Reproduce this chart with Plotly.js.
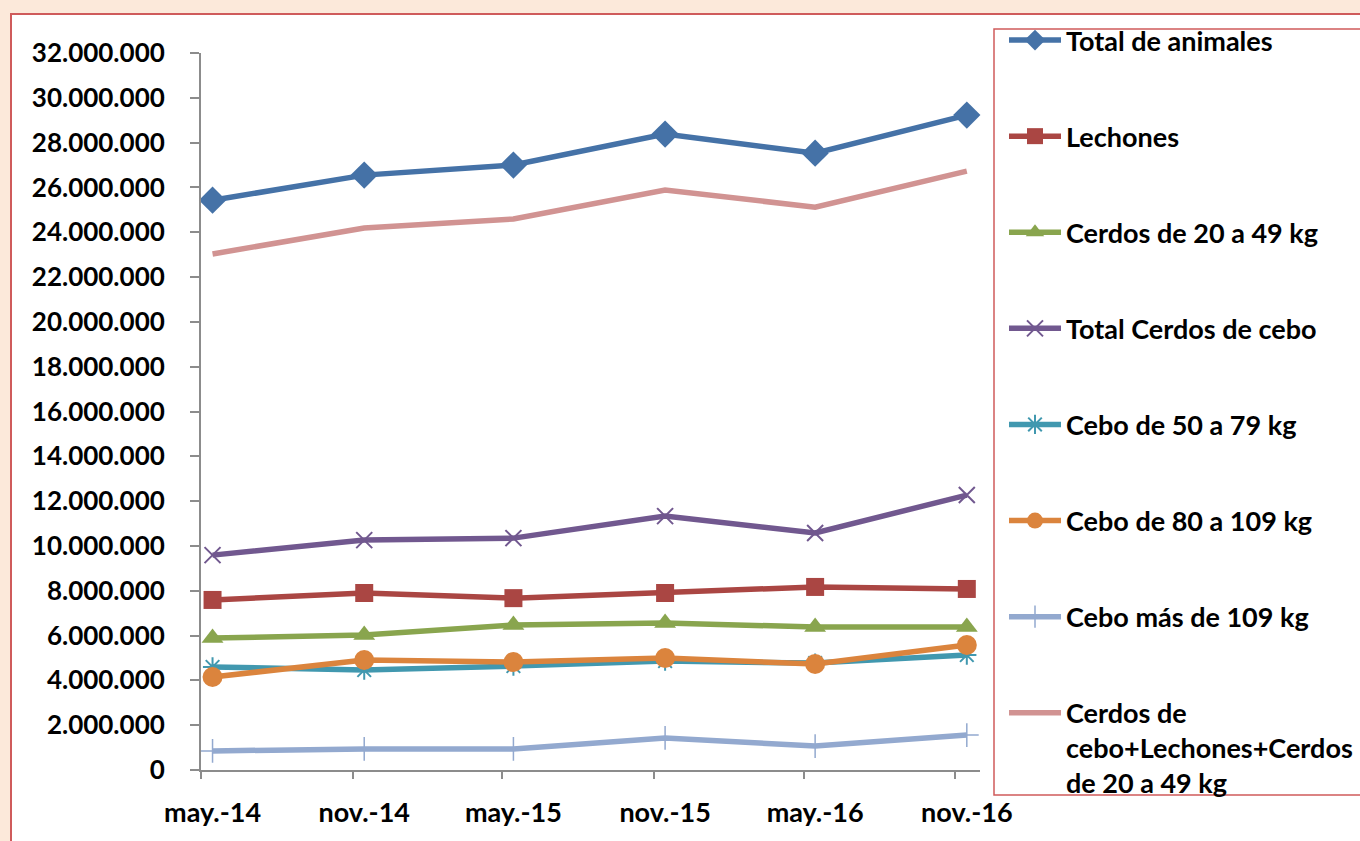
<!DOCTYPE html>
<html>
<head>
<meta charset="utf-8">
<script src="https://cdn.plot.ly/plotly-3.0.1.min.js"></script>
<style>html,body{margin:0;padding:0;background:#FCE9DA;}#chart{width:1360px;height:841px;}</style>
</head>
<body>
<div id="chart"></div>
<script>
// Periods (data dates) and their tick labels
const periods = ['2014-05-15','2014-11-15','2015-05-15','2015-11-15','2016-05-15','2016-11-15'];
const periodLabels = ['may.-14','nov.-14','may.-15','nov.-15','may.-16','nov.-16'];
const periodTicks = ['2014-05-01','2014-11-01','2015-05-01','2015-11-01','2016-05-01','2016-11-01'];

// Series values (number of animals)
const totalAnimales   = [25430000, 26550000, 27000000, 28380000, 27530000, 29230000];
const lechones        = [7590000, 7900000, 7670000, 7900000, 8170000, 8080000];
const cerdos20a49     = [5890000, 6020000, 6470000, 6560000, 6380000, 6380000];
const totalCebo       = [9590000, 10260000, 10350000, 11330000, 10580000, 12270000];
const cebo50a79       = [4600000, 4460000, 4640000, 4860000, 4770000, 5130000];
const cebo80a109      = [4150000, 4910000, 4820000, 5000000, 4730000, 5580000];
const ceboMas109      = [850000, 940000, 940000, 1430000, 1070000, 1560000];
const sumaCebo        = [23030000, 24190000, 24590000, 25880000, 25120000, 26730000];

const yTicks = [0,2e6,4e6,6e6,8e6,10e6,12e6,14e6,16e6,18e6,20e6,22e6,24e6,26e6,28e6,30e6,32e6];

const FONT = 'Lato, "Open Sans", sans-serif';

function tr(name, y, color, symbol, msize, mline, group) {
  const t = {
    type: 'scatter', mode: symbol ? 'lines+markers' : 'lines',
    x: periods, y: y, name: name, legendgroup: group,
    line: {color: color, width: 5.5},
    cliponaxis: false, hoverinfo: 'skip'
  };
  if (symbol) t.marker = {symbol: symbol, size: msize, color: color, line: {color: color, width: mline}};
  return t;
}

const data = [
  tr('Total de animales', totalAnimales, '#4572A7', 'diamond', 21, 0, 'g1'),
  tr('Lechones', lechones, '#AA4643', 'square', 18, 0, 'g2'),
  tr('Cerdos de 20 a 49 kg', cerdos20a49, '#89A54E', 'triangle-up', 19, 0, 'g3'),
  tr('Total Cerdos de cebo', totalCebo, '#71588F', 'x-thin-open', 16, 2, 'g4'),
  tr('Cebo de 50 a 79 kg', cebo50a79, '#4198AF', 'asterisk-open', 16, 2, 'g5'),
  tr('Cebo de 80 a 109 kg', cebo80a109, '#DB843D', 'circle', 20, 0, 'g6'),
  tr('Cebo más de 109 kg', ceboMas109, '#93A9CF', 'cross-thin-open', 17, 1.5, 'g7'),
  tr('Cerdos de<br>cebo+Lechones+Cerdos<br>de 20 a 49 kg', sumaCebo, '#D19392', null, 0, 0, 'g8')
];

const L = 201, R = 380, T = 53, B = 71;
const W = 1360 - L - R, H = 841 - T - B;
const px = p => (p - L) / W;
const py = q => (841 - B - q) / H;

const layout = {
  width: 1360, height: 841,
  margin: {l: L, r: R, t: T, b: B, pad: 0, autoexpand: false},
  paper_bgcolor: '#FCE9DA',
  plot_bgcolor: 'rgba(0,0,0,0)',
  separators: ',.',
  font: {family: FONT, size: 26, color: '#000', weight: 700},
  showlegend: true,
  legend: {
    x: px(1004), y: py(16), xanchor: 'left', yanchor: 'top',
    traceorder: 'grouped', tracegroupgap: 58, valign: 'top',
    itemwidth: 52, maxheight: 900,
    bgcolor: 'rgba(0,0,0,0)', borderwidth: 0,
    font: {family: FONT, size: 27, color: '#000', weight: 700}
  },
  xaxis: {
    type: 'date', range: ['2014-05-01', '2016-12-01'],
    tickmode: 'array', tickvals: periods, ticktext: periodLabels,
    ticks: '', showline: true, linecolor: '#8C8C8C', linewidth: 2,
    showgrid: false, zeroline: false, ticklabelstandoff: 18,
    tickfont: {family: FONT, size: 27, color: '#000', weight: 700}
  },
  xaxis2: {
    type: 'date', range: ['2014-05-01', '2016-12-01'], overlaying: 'x', anchor: 'y',
    tickmode: 'array', tickvals: periodTicks, showticklabels: false,
    ticks: 'outside', ticklen: 8, tickwidth: 2, tickcolor: '#8C8C8C',
    showline: false, showgrid: false, zeroline: false
  },
  yaxis: {
    range: [0, 32e6], tickmode: 'array', tickvals: yTicks, tickformat: ',d',
    ticks: 'outside', ticklen: 9, tickwidth: 2, tickcolor: '#8C8C8C',
    showline: true, linecolor: '#8C8C8C', linewidth: 2,
    showgrid: false, zeroline: false, ticklabelstandoff: 20,
    tickfont: {family: FONT, size: 26, color: '#000', weight: 700}
  },
  shapes: [
    {type: 'rect', xref: 'paper', yref: 'paper', layer: 'below',
     x0: px(11), x1: px(1380), y0: py(860), y1: py(14),
     fillcolor: '#FFFFFF', line: {color: '#CF5B5B', width: 2}},
    {type: 'rect', xref: 'paper', yref: 'paper', layer: 'below',
     x0: px(994), x1: px(1380), y0: py(795), y1: py(29),
     fillcolor: '#FFFFFF', line: {color: '#CF5B5B', width: 1.5}}
  ]
};

// invisible trace to activate xaxis2 (tick marks between periods)
data.push({type: 'scatter', x: periodTicks, y: periodTicks.map(() => null), xaxis: 'x2', yaxis: 'y',
           showlegend: false, hoverinfo: 'skip', mode: 'lines'});

Plotly.newPlot('chart', data, layout, {displayModeBar: false, staticPlot: true});
</script>
</body>
</html>
